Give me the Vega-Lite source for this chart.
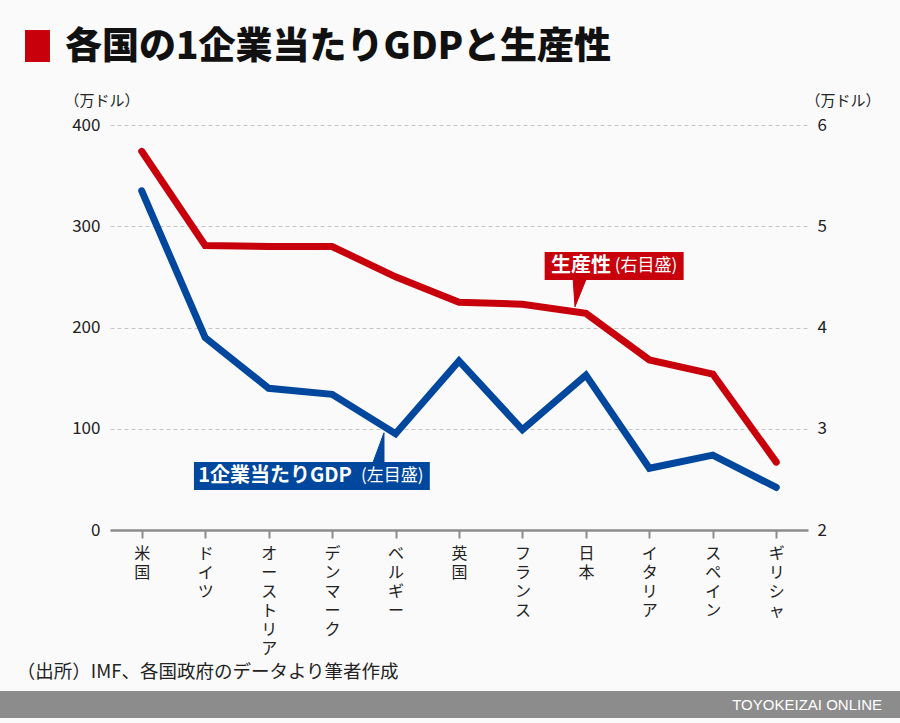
{
  "$schema": "https://vega.github.io/schema/vega-lite/v6.json",
  "width": 698,
  "height": 405,
  "autosize": "none",
  "padding": {"left": 110, "top": 125, "right": 92, "bottom": 193},
  "background": "#fafafa",
  "config": {
    "font": "Noto Sans CJK JP",
    "view": {"stroke": null},
    "axis": {"labelFont": "Noto Sans CJK JP", "titleFont": "Noto Sans CJK JP"}
  },
  "title": {
    "text": "各国の1企業当たりGDPと生産性",
    "anchor": "start",
    "frame": "group",
    "orient": "top",
    "baseline": "bottom",
    "dx": -45,
    "dy": 100,
    "offset": 26,
    "fontSize": 37,
    "fontWeight": 900,
    "color": "#111111",
    "font": "Noto Sans CJK JP"
  },
  "datasets": {
    "main": [
      {"country": "米国", "gdp": 335, "prod": 5.74},
      {"country": "ドイツ", "gdp": 190, "prod": 4.81},
      {"country": "オーストリア", "gdp": 140, "prod": 4.80},
      {"country": "デンマーク", "gdp": 134, "prod": 4.80},
      {"country": "ベルギー", "gdp": 95, "prod": 4.50},
      {"country": "英国", "gdp": 167, "prod": 4.25},
      {"country": "フランス", "gdp": 99, "prod": 4.23},
      {"country": "日本", "gdp": 153, "prod": 4.14},
      {"country": "イタリア", "gdp": 61, "prod": 3.68},
      {"country": "スペイン", "gdp": 74, "prod": 3.54},
      {"country": "ギリシャ", "gdp": 42, "prod": 2.67}
    ],
    "boxes": [
      {"series": "gdp", "x1": 0.823, "x2": 4.54, "y1": 39.5, "y2": 67.2},
      {"series": "prod", "x1": 6.35, "x2": 8.54, "y1": 246.9, "y2": 274.6}
    ],
    "pointers": [
      {"series": "gdp", "k": 1, "x": 3.629, "y": 64},
      {"series": "gdp", "k": 2, "x": 3.818, "y": 64},
      {"series": "gdp", "k": 3, "x": 3.818, "y": 96},
      {"series": "prod", "k": 1, "x": 6.797, "y": 250},
      {"series": "prod", "k": 2, "x": 7.017, "y": 250},
      {"series": "prod", "k": 3, "x": 6.828, "y": 220.5}
    ],
    "bigLabels": [
      {"text": "1企業当たりGDP", "x": 0.89, "y": 53.3},
      {"text": "生産性", "x": 6.45, "y": 260.7}
    ],
    "smallLabels": [
      {"text": "(左目盛)", "x": 4.44, "y": 53.3},
      {"text": "(右目盛)", "x": 8.44, "y": 260.7}
    ],
    "footerBar": [{"x1": -2.4, "x2": 12.2, "y1": -185.7, "y2": -159}],
    "footerText": [{"text": "TOYOKEIZAI ONLINE", "x": 11.666, "y": -172.8}],
    "source": [{"text": "（出所）IMF、各国政府のデータより筆者作成", "x": -1.97, "y": -140.2}],
    "marker": [{"x1": -1.84, "x2": -1.446, "y1": 462.2, "y2": 493.8}]
  },
  "layer": [
    {
      "data": {"name": "marker"},
      "mark": {"type": "rect", "color": "#c8000b"},
      "encoding": {
        "x": {"field": "x1", "type": "quantitative", "scale": {"domain": [-0.5, 10.5], "nice": false, "zero": false}, "axis": null},
        "x2": {"field": "x2"},
        "y": {"field": "y1", "type": "quantitative", "scale": {"domain": [0, 400], "nice": false, "zero": false}, "axis": null},
        "y2": {"field": "y2"}
      }
    },
    {
      "data": {"name": "footerBar"},
      "mark": {"type": "rect", "color": "#8c8c8c"},
      "encoding": {
        "x": {"field": "x1", "type": "quantitative", "scale": {"domain": [-0.5, 10.5], "nice": false, "zero": false}, "axis": null},
        "x2": {"field": "x2"},
        "y": {"field": "y1", "type": "quantitative", "scale": {"domain": [0, 400], "nice": false, "zero": false}, "axis": null},
        "y2": {"field": "y2"}
      }
    },
    {
      "data": {"name": "footerText"},
      "mark": {"type": "text", "align": "right", "baseline": "middle", "color": "#ffffff", "fontSize": 15, "font": "Liberation Sans"},
      "encoding": {
        "x": {"field": "x", "type": "quantitative", "scale": {"domain": [-0.5, 10.5], "nice": false, "zero": false}, "axis": null},
        "y": {"field": "y", "type": "quantitative", "scale": {"domain": [0, 400], "nice": false, "zero": false}, "axis": null},
        "text": {"field": "text"}
      }
    },
    {
      "data": {"name": "source"},
      "mark": {"type": "text", "align": "left", "baseline": "middle", "color": "#222222", "fontSize": 18.5},
      "encoding": {
        "x": {"field": "x", "type": "quantitative", "scale": {"domain": [-0.5, 10.5], "nice": false, "zero": false}, "axis": null},
        "y": {"field": "y", "type": "quantitative", "scale": {"domain": [0, 400], "nice": false, "zero": false}, "axis": null},
        "text": {"field": "text"}
      }
    },
    {
      "data": {"name": "boxes"},
      "mark": {"type": "rect"},
      "encoding": {
        "x": {"field": "x1", "type": "quantitative", "scale": {"domain": [-0.5, 10.5], "nice": false, "zero": false}, "axis": null},
        "x2": {"field": "x2"},
        "y": {"field": "y1", "type": "quantitative", "scale": {"domain": [0, 400], "nice": false, "zero": false}, "axis": null},
        "y2": {"field": "y2"},
        "color": {"field": "series", "type": "nominal", "scale": {"domain": ["gdp", "prod"], "range": ["#00479d", "#c8000b"]}, "legend": null}
      }
    },
    {
      "data": {"name": "pointers"},
      "mark": {"type": "line", "interpolate": "linear-closed", "strokeWidth": 1},
      "encoding": {
        "x": {"field": "x", "type": "quantitative", "scale": {"domain": [-0.5, 10.5], "nice": false, "zero": false}, "axis": null},
        "y": {"field": "y", "type": "quantitative", "scale": {"domain": [0, 400], "nice": false, "zero": false}, "axis": null},
        "order": {"field": "k"},
        "detail": {"field": "series"},
        "color": {"field": "series", "type": "nominal", "scale": {"domain": ["gdp", "prod"], "range": ["#00479d", "#c8000b"]}, "legend": null},
        "fill": {"field": "series", "type": "nominal", "scale": {"domain": ["gdp", "prod"], "range": ["#00479d", "#c8000b"]}, "legend": null}
      }
    },
    {
      "data": {"name": "bigLabels"},
      "mark": {"type": "text", "align": "left", "baseline": "middle", "color": "#ffffff", "fontSize": 20, "fontWeight": "bold"},
      "encoding": {
        "x": {"field": "x", "type": "quantitative", "scale": {"domain": [-0.5, 10.5], "nice": false, "zero": false}, "axis": null},
        "y": {"field": "y", "type": "quantitative", "scale": {"domain": [0, 400], "nice": false, "zero": false}, "axis": null},
        "text": {"field": "text"}
      }
    },
    {
      "data": {"name": "smallLabels"},
      "mark": {"type": "text", "align": "right", "baseline": "middle", "color": "#ffffff", "fontSize": 17},
      "encoding": {
        "x": {"field": "x", "type": "quantitative", "scale": {"domain": [-0.5, 10.5], "nice": false, "zero": false}, "axis": null},
        "y": {"field": "y", "type": "quantitative", "scale": {"domain": [0, 400], "nice": false, "zero": false}, "axis": null},
        "text": {"field": "text"}
      }
    },
    {
      "data": {"name": "main"},
      "mark": {"type": "line", "color": "#00479d", "strokeWidth": 7, "strokeCap": "round", "strokeJoin": "miter"},
      "encoding": {
        "x": {
          "field": "country", "type": "nominal",
          "sort": ["米国", "ドイツ", "オーストリア", "デンマーク", "ベルギー", "英国", "フランス", "日本", "イタリア", "スペイン", "ギリシャ"],
          "scale": {"type": "point", "padding": 0.5},
          "axis": {
            "title": null, "orient": "bottom", "labelAngle": 0, "labelAlign": "center", "labelBaseline": "top",
            "labelExpr": "split(datum.label, '')", "labelLineHeight": 19, "labelFontSize": 16, "labelColor": "#222222",
            "labelPadding": 7, "domainColor": "#8c8c8c", "domainWidth": 2.5, "tickColor": "#8c8c8c", "tickWidth": 2,
            "tickSize": 8, "grid": false, "labelOverlap": false, "labelBound": false
          }
        },
        "y": {
          "field": "gdp", "type": "quantitative",
          "scale": {"domain": [0, 400], "nice": false, "zero": false},
          "axis": {
            "orient": "left", "values": [0, 100, 200, 300, 400], "title": "（万ドル）", "titleAngle": 0,
            "titleX": -46, "titleY": -25, "titleAlign": "left", "titleBaseline": "middle", "titleFontSize": 15,
            "titleFontWeight": "normal", "titleColor": "#222222", "labelFontSize": 17, "labelColor": "#222222",
            "labelPadding": 10, "ticks": false, "domain": false, "grid": true, "gridDash": [4, 3],
            "gridColor": "#c4c4c4", "gridWidth": 1.2
          }
        }
      }
    },
    {
      "data": {"name": "main"},
      "mark": {"type": "line", "color": "#c8000b", "strokeWidth": 7, "strokeCap": "round", "strokeJoin": "miter"},
      "encoding": {
        "x": {
          "field": "country", "type": "nominal",
          "sort": ["米国", "ドイツ", "オーストリア", "デンマーク", "ベルギー", "英国", "フランス", "日本", "イタリア", "スペイン", "ギリシャ"],
          "scale": {"type": "point", "padding": 0.5},
          "axis": null
        },
        "y": {
          "field": "prod", "type": "quantitative",
          "scale": {"domain": [2, 6], "nice": false, "zero": false},
          "axis": {
            "orient": "right", "values": [2, 3, 4, 5, 6], "title": "（万ドル）", "titleAngle": 0,
            "titleX": -3, "titleY": -25, "titleAlign": "left", "titleBaseline": "middle", "titleFontSize": 15,
            "titleFontWeight": "normal", "titleColor": "#222222", "labelFontSize": 17, "labelColor": "#222222",
            "labelPadding": 9, "ticks": false, "domain": false, "grid": false
          }
        }
      }
    }
  ],
  "resolve": {"scale": {"x": "independent", "y": "independent", "color": "independent", "fill": "independent"}, "axis": {"x": "independent", "y": "independent"}}
}
